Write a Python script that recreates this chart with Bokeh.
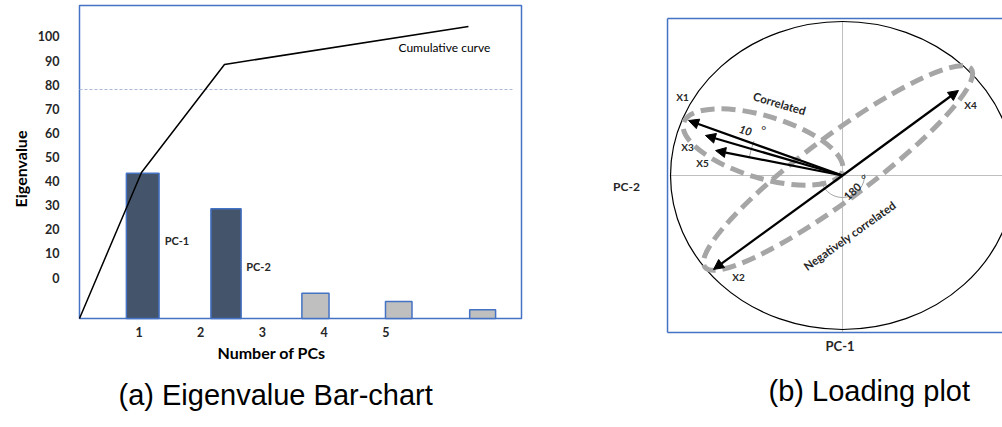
from bokeh.plotting import figure
from bokeh.models import Range1d, FixedTicker, Arrow, NormalHead, ColumnDataSource, Title
from bokeh.layouts import row
from bokeh.core.properties import value
from bokeh.embed import file_html
from bokeh.resources import INLINE

# ---------------- data: (a) eigenvalue bar chart ----------------
pc_ticks = [1, 2, 3, 4, 5]
eig_ticks = [0, 10, 20, 30, 40, 50, 60, 70, 80, 90, 100]
bar_pos = [1.06, 2.41, 3.86, 5.21, 6.57]
bar_width = [0.53, 0.49, 0.44, 0.43, 0.42]
eigenvalues = [43.3, 28.5, -6.5, -10.0, -13.4]
bar_colors = ["#44546a", "#44546a", "#bfbfbf", "#bfbfbf", "#bfbfbf"]
cum_x = [0.035, 1.04, 2.385, 6.34]
cum_y = [-17.0, 43.6, 88.4, 104.1]
threshold = 78

# ---------------- data: (b) loading plot ----------------
var_names = ["X1", "X2", "X3", "X4", "X5"]
load_pc1 = [-0.895, -0.750, -0.797, 0.674, -0.738]
load_pc2 = [0.357, -0.610, 0.260, 0.552, 0.162]
label_x = [-0.930, -0.605, -0.901, 0.744, -0.814]
label_y = [0.513, -0.656, 0.182, 0.461, 0.084]

FONT = "Lato"
CAP_FONT = "Liberation Sans"
BLUE = "#4472c4"
TXT = "#262626"
H = 425
TOP = 3
BOTTOM = 91

# ================= left figure =================
box_l, box_r, box_b, box_t = 0.035, 7.2, -17.0, 112.86
p1 = figure(width=600, height=H, x_range=Range1d(0.0026, 7.2324), y_range=Range1d(-23.65, 113.69),
            output_backend="svg", toolbar_location=None,
            min_border_left=77, min_border_right=77, min_border_top=TOP, min_border_bottom=BOTTOM)
p1.outline_line_color = None
p1.grid.visible = False
p1.background_fill_color = "white"
p1.border_fill_color = "white"
p1.xaxis.ticker = FixedTicker(ticks=pc_ticks)
p1.yaxis.ticker = FixedTicker(ticks=eig_ticks)
for ax in p1.axis:
    ax.axis_line_color = None
    ax.major_tick_line_color = None
    ax.minor_tick_line_color = None
    ax.major_tick_out = 0
    ax.major_tick_in = 0
    ax.minor_tick_out = 0
    ax.minor_tick_in = 0
    ax.major_label_text_font = FONT
    ax.major_label_text_font_style = "bold"
    ax.major_label_text_font_size = "12.5px"
    ax.major_label_text_color = TXT
p1.yaxis.major_label_standoff = 18
p1.xaxis.major_label_standoff = -8

p1.add_layout(Title(text="Eigenvalue", align="center", offset=-12, standoff=10,
                    text_font=FONT, text_font_size="16px", text_font_style="bold",
                    text_color="black"), "left")
p1.add_layout(Title(text="Number of PCs", align="left", offset=140, standoff=2,
                    text_font=FONT, text_font_size="16px", text_font_style="bold",
                    text_color="black"), "below")
p1.add_layout(Title(text="(a) Eigenvalue Bar-chart", align="left", offset=41, standoff=29,
                    text_font=CAP_FONT, text_font_size="29px", text_font_style="normal",
                    text_color="black"), "below")

p1.quad(left=[box_l], right=[box_r], bottom=[box_b], top=[box_t], fill_color=None,
        line_color=BLUE, line_width=1.5)
p1.vbar(x=bar_pos, width=bar_width, bottom=box_b, top=eigenvalues,
        fill_color=bar_colors, line_color=BLUE, line_width=1.5)
p1.line([box_l, 7.07], [threshold, threshold], line_color="#a9b8d4", line_width=1, line_dash="3 2")
p1.line(cum_x, cum_y, line_color="black", line_width=1.5)
p1.text(x=[5.95], y=[95.6], text=["Cumulative curve"], text_font=value(FONT),
        text_font_size="12px", text_align="center", text_baseline="middle", text_color="black")
p1.text(x=[1.615, 2.937], y=[15.4, 4.6], text=["PC-1", "PC-2"], text_font=value(FONT),
        text_font_style="bold", text_font_size="11px", text_align="center",
        text_baseline="middle", text_color=TXT)

# ================= right figure =================
p2 = figure(width=402, height=H, x_range=Range1d(-1.378, 0.930), y_range=Range1d(-1.0325, 1.117),
            output_backend="svg", toolbar_location=None, x_axis_location=None, y_axis_location=None,
            min_border_left=5, min_border_right=0, min_border_top=TOP, min_border_bottom=BOTTOM)
p2.outline_line_color = None
p2.grid.visible = False
p2.background_fill_color = "white"
p2.border_fill_color = "white"

bl, bt, bb, br = -1.0174, 1.0195, -1.0195, 0.93
p2.segment(x0=[bl, bl, bl], y0=[bb, bt, bb], x1=[bl, br, br], y1=[bt, bt, bb],
           line_color=BLUE, line_width=1.5)
# dotted PC axes
p2.segment(x0=[-1.0, 0.0], y0=[0.0, 1.0], x1=[br, 0.0], y1=[0.0, bb],
           line_color="#7f7f7f", line_width=1, line_dash="1 1")
# unit circle
p2.ellipse(x=[0], y=[0], width=[2], height=[2], fill_color=None, line_color="black", line_width=1.2)
# angle arcs
p2.arc(x=[0], y=[0], radius=95, radius_units="screen", start_angle=2.77, end_angle=2.96,
       line_color="#a6a6a6", line_width=1)
p2.arc(x=[0], y=[0], radius=22, radius_units="screen", start_angle=3.4, end_angle=6.35,
       line_color="#a6a6a6", line_width=1)
# dashed grouping ellipses
p2.ellipse(x=[-0.462, -0.026], y=[0.185, 0.049], width=[166, 332], height=[62, 64],
           angle=[-0.295, 0.639], width_units="screen", height_units="screen",
           fill_color=None, line_color="#a6a6a6", line_width=5, line_dash="14 7")

src = ColumnDataSource(dict(x0=[0.0] * 5, y0=[0.0] * 5, x1=load_pc1, y1=load_pc2))
p2.add_layout(Arrow(end=NormalHead(size=10, fill_color="black", line_color="black"),
                    x_start="x0", y_start="y0", x_end="x1", y_end="y1", source=src,
                    line_color="black", line_width=2.2))

p2.text(x=label_x, y=label_y, text=var_names, text_font=value(FONT), text_font_style="bold",
        text_font_size="10px", text_align="center", text_baseline="middle", text_color=TXT)
p2.text(x=[-0.366], y=[0.468], text=["Correlated"], angle=[-0.29], text_font=value(FONT),
        text_font_style="bold", text_font_size="11.5px", text_align="center",
        text_baseline="middle", text_color=TXT)
p2.text(x=[0.041], y=[-0.390], text=["Negatively correlated"], angle=[0.62], text_font=value(FONT),
        text_font_style="bold", text_font_size="11.5px", text_align="center",
        text_baseline="middle", text_color=TXT)
p2.text(x=[-0.564], y=[0.292], text=["10"], angle=[-0.3], text_font=value(FONT),
        text_font_style="bold italic", text_font_size="11px", text_align="center",
        text_baseline="middle", text_color=TXT)
p2.text(x=[0.058], y=[-0.104], text=["180"], angle=[0.75], text_font=value(FONT),
        text_font_style="bold", text_font_size="11px", text_align="center",
        text_baseline="middle", text_color=TXT)
p2.text(x=[-0.458, 0.122], y=[0.29, -0.026], text=["°", "°"], text_font=value(FONT),
        text_font_size="12px", text_align="center", text_baseline="middle", text_color=TXT)
p2.text(x=[-1.256], y=[-0.071], text=["PC-2"], text_font=value(FONT), text_font_style="bold",
        text_font_size="12px", text_align="center", text_baseline="middle", text_color=TXT)

p2.add_layout(Title(text="PC-1", align="left", offset=220, standoff=3, text_font=FONT,
                    text_font_size="13px", text_font_style="bold", text_color=TXT), "below")
p2.add_layout(Title(text="(b) Loading plot", align="left", offset=163, standoff=34,
                    text_font=CAP_FONT, text_font_size="29px", text_font_style="normal",
                    text_color="black"), "below")

layout = row(p1, p2)
open("out.html", "w").write(file_html(layout, INLINE))
